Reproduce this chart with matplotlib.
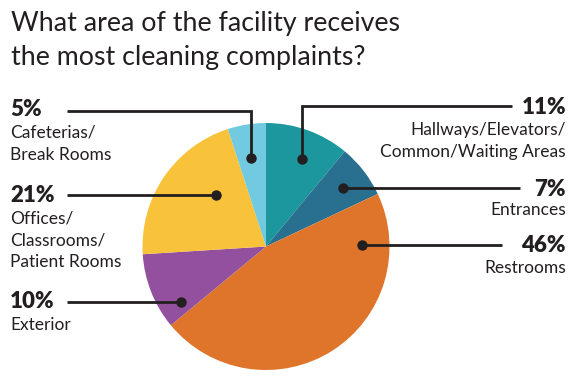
import matplotlib
matplotlib.use("Agg")
import matplotlib.pyplot as plt
import numpy as np

categories = ["Hallways/Elevators/\nCommon/Waiting Areas", "Entrances", "Restrooms",
              "Exterior", "Offices/\nClassrooms/\nPatient Rooms", "Cafeterias/\nBreak Rooms"]
values = [11, 7, 46, 10, 21, 5]
pct_labels = ["11%", "7%", "46%", "10%", "21%", "5%"]
colors = ["#1b979d", "#296f90", "#de752a", "#93509e", "#f9c23b", "#71cadf"]

W, H = 576, 382
fig = plt.figure(figsize=(W / 100, H / 100), dpi=100)
ax = fig.add_axes([0, 0, 1, 1])

cx, cy, R = 266, H - 246.5, 123.5
ax.pie(values, colors=colors, startangle=90, counterclock=False,
       center=(cx, cy), radius=R, frame=True,
       wedgeprops=dict(linewidth=0))
ax.set_xlim(0, W)
ax.set_ylim(0, H)
ax.set_aspect("equal")
ax.axis("off")

FONT = "Lato"
fig.text(11 / W, 1 - 24 / H, "What area of the facility receives", fontsize=19.3,
         family=FONT, va="center", ha="left", color="#231f20")
fig.text(11 / W, 1 - 57 / H, "the most cleaning complaints?", fontsize=19.3,
         family=FONT, va="center", ha="left", color="#231f20")

# label layout: (dot angle deg, dot radius frac, side, line end x, elbow y or None, pct y, text first y)
layout = [
    (67.5, 0.77, "R", 512, 106, 107, 130),
    (37.3, 0.78, "R", 520, None, 189, 210),
    (0.6, 0.78, "R", 502, None, 245, 268),
    (212.9, 0.82, "L", 67, None, 302, 325),
    (134.4, 0.58, "L", 67, None, 195, 219),
    (99.6, 0.73, "L", 67, 111, 110, 133),
]
lc = "#231f20"
for (ang, rf, side, xend, elbow, py, ty), cat, pl in zip(layout, categories, pct_labels):
    a = np.deg2rad(ang)
    dx, dy = cx + rf * R * np.cos(a), cy + rf * R * np.sin(a)
    if elbow is not None:
        xs = [dx, dx, xend]
        ys = [dy, H - elbow, H - elbow]
    else:
        xs = [dx, xend]
        ys = [dy, dy]
    ax.plot(xs, ys, color=lc, lw=2.0, solid_capstyle="butt", solid_joinstyle="miter")
    ax.plot([dx], [dy], "o", color=lc, ms=7.5, mew=0)
    if side == "R":
        x, ha = 566, "right"
    else:
        x, ha = 10, "left"
    ax.text(x, H - py, pl, fontsize=16, fontweight="heavy", family=FONT,
            ha=ha, va="center", color=lc)
    for i, line in enumerate(cat.split("\n")):
        ax.text(x, H - (ty + 21.5 * i), line, fontsize=12.5, family=FONT,
                fontweight="normal", ha=ha, va="center", color=lc)

fig.savefig("out.png", dpi=100, facecolor="white")
